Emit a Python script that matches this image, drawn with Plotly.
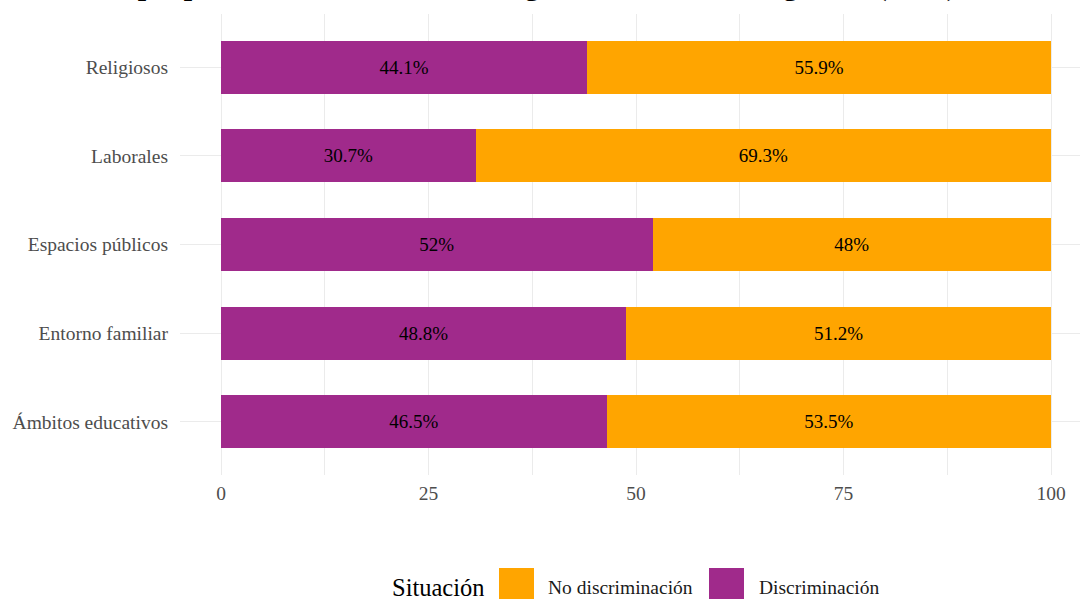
import plotly.graph_objects as go

# ---- data ----
categorias = ["Ámbitos educativos", "Entorno familiar", "Espacios públicos", "Laborales", "Religiosos"]
discriminacion = [46.5, 48.8, 52.0, 30.7, 44.1]
no_discriminacion = [53.5, 51.2, 48.0, 69.3, 55.9]
x_ticks = [0, 25, 50, 75, 100]
serie_disc = "Discriminación"
serie_nodisc = "No discriminación"
leyenda_titulo = "Situación"
titulo = "Personas que perciben discriminación según su identidad de género (2023)"

# ---- style ----
W, H = 1080, 599
ML, MR, MT, MB = 180, 0, 14, 124
PURPLE = "#A02A8B"
ORANGE = "#FFA500"
FONT = "Liberation Serif"
GRID = "#EBEBEB"

px0, px100 = 221.0, 1051.0
scale = (px100 - px0) / 100.0
x_lo = (ML - px0) / scale
x_hi = (W - MR - px0) / scale

def pct(v):
    return f"{v:g}%"

fig = go.Figure()
fig.add_trace(go.Bar(
    y=categorias, x=discriminacion, orientation="h", name=serie_disc,
    marker=dict(color=PURPLE, line=dict(width=0)),
    text=[pct(v) for v in discriminacion], textposition="inside",
    insidetextanchor="middle", textangle=0, constraintext="none",
    textfont=dict(family=FONT, size=19, color="black"),
    showlegend=False, hoverinfo="skip",
))
fig.add_trace(go.Bar(
    y=categorias, x=no_discriminacion, orientation="h", name=serie_nodisc,
    marker=dict(color=ORANGE, line=dict(width=0)),
    text=[pct(v) for v in no_discriminacion], textposition="inside",
    insidetextanchor="middle", textangle=0, constraintext="none",
    textfont=dict(family=FONT, size=19, color="black"),
    showlegend=False, hoverinfo="skip",
))

pw = W - ML - MR
ph = H - MT - MB

def xp(p):
    return (p - ML) / pw

def yp(p):
    return (H - MB - p) / ph

shapes = [
    dict(type="rect", xref="paper", yref="paper", x0=xp(499), x1=xp(534), y0=yp(603), y1=yp(568),
         fillcolor=ORANGE, line=dict(width=0), layer="above"),
    dict(type="rect", xref="paper", yref="paper", x0=xp(709), x1=xp(744), y0=yp(603), y1=yp(568),
         fillcolor=PURPLE, line=dict(width=0), layer="above"),
]
annotations = [
    dict(text="<b>" + titulo + "</b>", xref="paper", yref="paper", x=xp(5), y=yp(4.5),
         xanchor="left", yanchor="bottom", showarrow=False,
         font=dict(family=FONT, size=30, color="black")),
    dict(text=leyenda_titulo, xref="paper", yref="paper", x=xp(390), y=yp(587), xanchor="left",
         yanchor="middle", height=22, valign="middle", showarrow=False,
         font=dict(family=FONT, size=24.5, color="black")),
    dict(text=serie_nodisc, xref="paper", yref="paper", x=xp(546), y=yp(587), xanchor="left",
         yanchor="middle", height=20, valign="middle", showarrow=False,
         font=dict(family=FONT, size=19.5, color="#1A1A1A")),
    dict(text=serie_disc, xref="paper", yref="paper", x=xp(757), y=yp(587), xanchor="left",
         yanchor="middle", height=20, valign="middle", showarrow=False,
         font=dict(family=FONT, size=19.5, color="#1A1A1A")),
]

fig.update_layout(
    width=W, height=H,
    margin=dict(l=ML, r=MR, t=MT, b=MB, pad=0),
    barmode="stack", bargap=0.4,
    plot_bgcolor="white", paper_bgcolor="white",
    shapes=shapes, annotations=annotations,
    xaxis=dict(range=[x_lo, x_hi], tickvals=x_ticks, ticktext=[str(t) for t in x_ticks],
               showgrid=True, gridcolor=GRID, gridwidth=1.1, zeroline=False, showline=False,
               ticks="", ticklabelstandoff=4,
               tickfont=dict(family=FONT, size=19.5, color="#4D4D4D"),
               minor=dict(tickvals=[12.5, 37.5, 62.5, 87.5], showgrid=True, gridcolor=GRID, gridwidth=0.6)),
    yaxis=dict(type="category", categoryorder="array", categoryarray=categorias,
               range=[-0.6, 4.6], showgrid=True, gridcolor=GRID, gridwidth=1.1,
               zeroline=False, showline=False, ticks="", ticklabelstandoff=11,
               tickfont=dict(family=FONT, size=19.5, color="#4D4D4D")),
)

fig.write_html("out.html")
